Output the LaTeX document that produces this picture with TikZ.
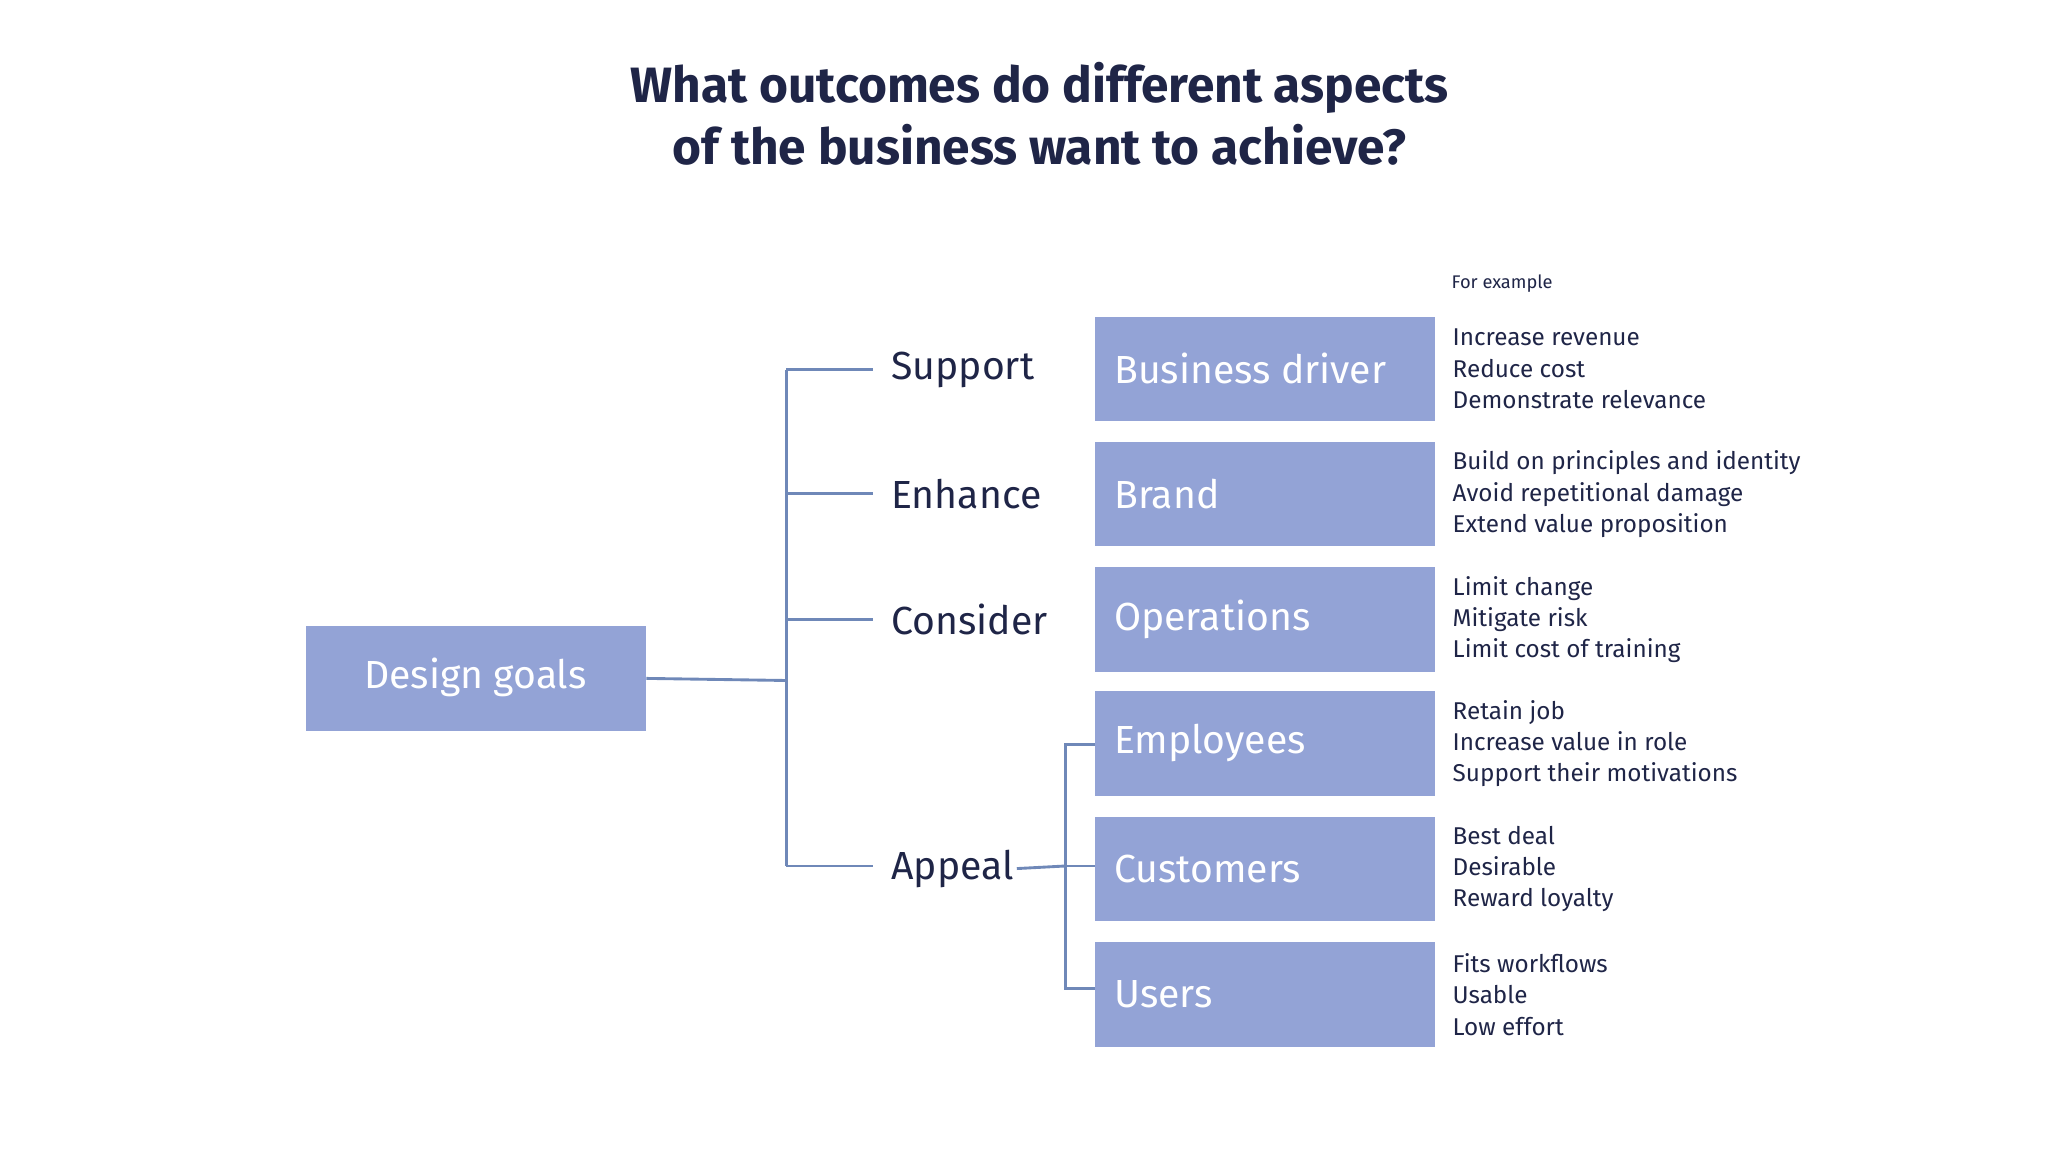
\documentclass[tikz,border=0pt]{standalone}
\usepackage{fontspec}
\setmainfont{Fira Sans}
\begin{document}
\definecolor{boxc}{HTML}{93A3D6}
\definecolor{linec}{HTML}{6F88B8}
\definecolor{ink}{HTML}{1F2547}
\begin{tikzpicture}[x=0.5pt,y=-0.5pt,
  box/.style={fill=boxc,minimum width=130pt,minimum height=40pt,anchor=north west,inner sep=0pt},
  btext/.style={text=white,font=\fontsize{15}{18}\selectfont,anchor=west},
  lab/.style={text=ink,font=\fontsize{15}{18}\selectfont,anchor=west,inner sep=1pt},
  ex/.style={text=ink,font=\fontsize{9.3}{12}\selectfont\linespread{1}\selectfont,anchor=west,align=left,inner sep=0pt},
  con/.style={draw=linec,line width=1.1pt}]
\useasboundingbox (0,0) rectangle (1568,882);
\node[text=ink,font=\bfseries\fontsize{19}{23.5}\selectfont,align=center] (title) at (796,87) {What outcomes do different aspects\\of the business want to achieve?};
\node[box,minimum width=130pt] (dg) at (234,479) {};
\node[text=white,font=\fontsize{15}{18}\selectfont] (dgt) at (364,519) {Design goals};
\foreach \n/\y/\t in {bd/242/Business driver,br/338/Brand,op/434/Operations,em/529/Employees,cu/625/Customers,us/721/Users}{
  \node[box] (\n) at (838,\y) {};
  \node[btext] (\n t) at (846,\y+40) {\t};
}
\node[ex,font=\fontsize{7}{9}\selectfont] (fe) at (1111,217) {For example};
\foreach \n/\t in {bd/{Increase revenue\\Reduce cost\\Demonstrate relevance},
  br/{Build on principles and identity\\Avoid repetitional damage\\Extend value proposition},
  op/{Limit change\\Mitigate risk\\Limit cost of training},
  em/{Retain job\\Increase value in role\\Support their motivations},
  cu/{Best deal\\Desirable\\Reward loyalty},
  us/{Fits workflows\\Usable\\Low effort}}{
  \node[ex,anchor=west] (\n x) at ([xshift=6.5pt]\n.east) {\t};
}
\node[lab] (su) at (680,283) {Support};
\node[lab] (en) at (680,378) {Enhance};
\node[lab] (co) at (680,474) {Consider};
\node[lab] (ap) at (680,665) {Appeal};
\coordinate (j) at (602,521);
\draw[con] (dg.east) -- (j);
\draw[con] (602,283) -- (602,663);
\foreach \n/\y in {su/283,en/378,co/474,ap/663}{\draw[con] (602,\y) -- (668,\y);}
\draw[con] (ap.east) -- (816,663);
\draw[con] (838,570) -- (816,570) -- (816,757) -- (838,757);
\draw[con] (816,663) -- (cu.west |- 816,663);
\end{tikzpicture}
\end{document}
